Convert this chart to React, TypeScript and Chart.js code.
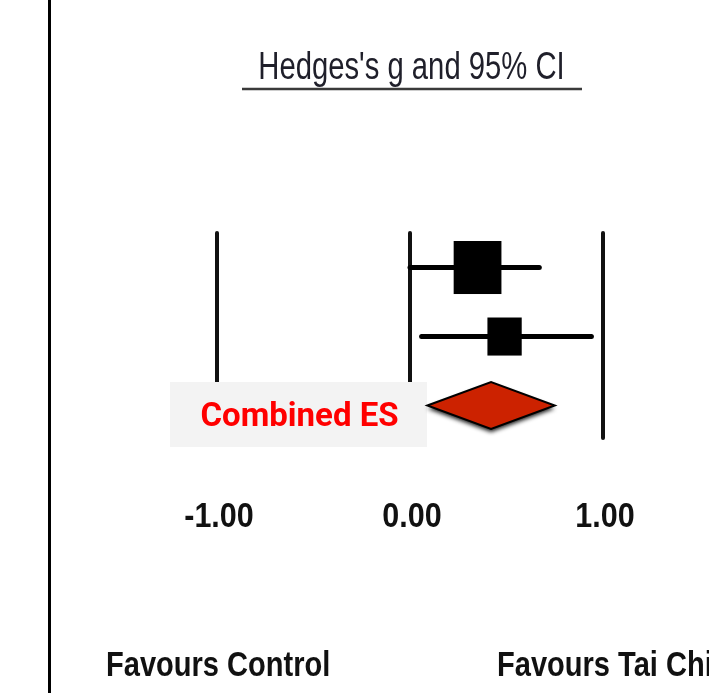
import React, { useEffect, useRef } from "react";
import { Chart, registerables } from "chart.js";
Chart.register(...registerables);

const studies = ["Study 1", "Study 2"];
const effectSizes = [0.35, 0.49];
const lowerCI = [0.0, 0.06];
const upperCI = [0.67, 0.94];
const weights = [66, 34];
const combinedLabel = "Combined ES";
const combinedES = [0.42];
const combinedLower = [0.09];
const combinedUpper = [0.75];
const tickValues = [-1, 0, 1];
const tickLabels = ["-1.00", "0.00", "1.00"];
const titleText = "Hedges's g and 95% CI";
const leftFooter = "Favours Control";
const rightFooter = "Favours Tai Chi";

function drawText(
  ctx: CanvasRenderingContext2D,
  text: string,
  x: number,
  y: number,
  font: string,
  color: string,
  sx: number,
  align: "left" | "center"
) {
  ctx.save();
  ctx.font = font;
  ctx.fillStyle = color;
  ctx.textBaseline = "alphabetic";
  ctx.textAlign = "left";
  const w = ctx.measureText(text).width * sx;
  const left = align === "center" ? x - w / 2 : x;
  ctx.translate(left, y);
  ctx.scale(sx, 1);
  ctx.fillText(text, 0, 0);
  ctx.restore();
}

const forestPlugin = {
  id: "forest",
  afterDraw(chart: any) {
    const ctx: CanvasRenderingContext2D = chart.ctx;
    const xs = chart.scales.x;
    const ys = chart.scales.y;
    const area = chart.chartArea;

    // left border
    ctx.save();
    ctx.fillStyle = "#000";
    ctx.fillRect(48, 0, 3, chart.height);
    ctx.restore();

    // title + underline
    drawText(ctx, titleText, 411.5, 79, "38px 'Liberation Sans', Arial, sans-serif", "#1f1f2a", 0.77, "center");
    ctx.save();
    ctx.strokeStyle = "#3a3a3a";
    ctx.lineWidth = 2.5;
    ctx.beginPath();
    ctx.moveTo(242, 89);
    ctx.lineTo(582, 89);
    ctx.stroke();
    ctx.restore();

    // reference lines
    ctx.save();
    ctx.strokeStyle = "#111";
    ctx.lineWidth = 4;
    ctx.lineCap = "round";
    tickValues.forEach((v) => {
      const px = xs.getPixelForValue(v);
      ctx.beginPath();
      ctx.moveTo(px, area.top);
      ctx.lineTo(px, area.bottom);
      ctx.stroke();
    });
    ctx.restore();

    // studies
    studies.forEach((_, i) => {
      const py = ys.getPixelForValue(i + 1);
      const x0 = xs.getPixelForValue(lowerCI[i]);
      const x1 = xs.getPixelForValue(upperCI[i]);
      const xc = xs.getPixelForValue(effectSizes[i]);
      ctx.save();
      ctx.strokeStyle = "#000";
      ctx.lineWidth = 5;
      ctx.lineCap = "round";
      ctx.beginPath();
      ctx.moveTo(x0, py);
      ctx.lineTo(x1, py);
      ctx.stroke();
      const w = 5.88 * Math.sqrt(weights[i]);
      const h = w * 1.11;
      ctx.fillStyle = "#000";
      ctx.fillRect(xc - w / 2, py - h / 2, w, h);
      ctx.restore();
    });

    // label box
    ctx.save();
    ctx.fillStyle = "#f3f3f3";
    ctx.fillRect(170, 382, 257, 65);
    ctx.restore();
    drawText(ctx, combinedLabel, 299.5, 426, "bold 33px Roboto, Arial, sans-serif", "#ff0000", 1, "center");

    // diamond
    const dy = ys.getPixelForValue(3);
    const dl = xs.getPixelForValue(combinedLower[0]);
    const dr = xs.getPixelForValue(combinedUpper[0]);
    const dc = xs.getPixelForValue(combinedES[0]);
    const hh = 23.5;
    ctx.save();
    ctx.beginPath();
    ctx.moveTo(dl, dy);
    ctx.lineTo(dc, dy - hh);
    ctx.lineTo(dr, dy);
    ctx.lineTo(dc, dy + hh);
    ctx.closePath();
    ctx.shadowColor = "rgba(0,0,0,0.9)";
    ctx.shadowBlur = 4;
    ctx.shadowOffsetY = 3;
    ctx.fillStyle = "#cc2200";
    ctx.fill();
    ctx.shadowColor = "transparent";
    ctx.strokeStyle = "#000";
    ctx.lineWidth = 2;
    ctx.lineJoin = "miter";
    ctx.stroke();
    ctx.restore();

    // tick labels
    tickValues.forEach((v, i) => {
      const px = xs.getPixelForValue(v) + 2;
      drawText(ctx, tickLabels[i], px, 527, "bold 35px 'Liberation Sans', Arial, sans-serif", "#111", 0.87, "center");
    });

    // footers
    drawText(ctx, leftFooter, 106, 676, "bold 35px 'Liberation Sans', Arial, sans-serif", "#111", 0.83, "left");
    drawText(ctx, rightFooter, 497, 676, "bold 35px 'Liberation Sans', Arial, sans-serif", "#111", 0.83, "left");
  },
};

export default function App() {
  const ref = useRef<HTMLCanvasElement | null>(null);
  useEffect(() => {
    if (!ref.current) return;
    const points = effectSizes.map((v, i) => ({ x: v, y: i + 1 }));
    points.push({ x: combinedES[0], y: 3 });
    const chart = new Chart(ref.current, {
      type: "scatter",
      data: {
        datasets: [
          {
            label: "Hedges's g",
            data: points,
            pointRadius: 0,
            pointHoverRadius: 0,
          },
        ],
      },
      options: {
        animation: false,
        responsive: false,
        maintainAspectRatio: false,
        devicePixelRatio: 1,
        layout: { padding: { left: 120.5, right: 9.5, top: 233, bottom: 255 } },
        plugins: { legend: { display: false }, tooltip: { enabled: false }, title: { display: false } },
        events: [],
        scales: {
          x: { type: "linear", min: -1.5, max: 1.5, display: false },
          y: { type: "linear", min: 0.5, max: 3.47, reverse: true, display: false },
        },
      },
      plugins: [forestPlugin],
    });
    return () => chart.destroy();
  }, []);
  return (
    <div style={{ position: "absolute", left: 0, top: 0, width: 709, height: 693, background: "#fff" }}>
      <canvas ref={ref} width={709} height={693} style={{ display: "block", width: 709, height: 693 }} />
    </div>
  );
}
